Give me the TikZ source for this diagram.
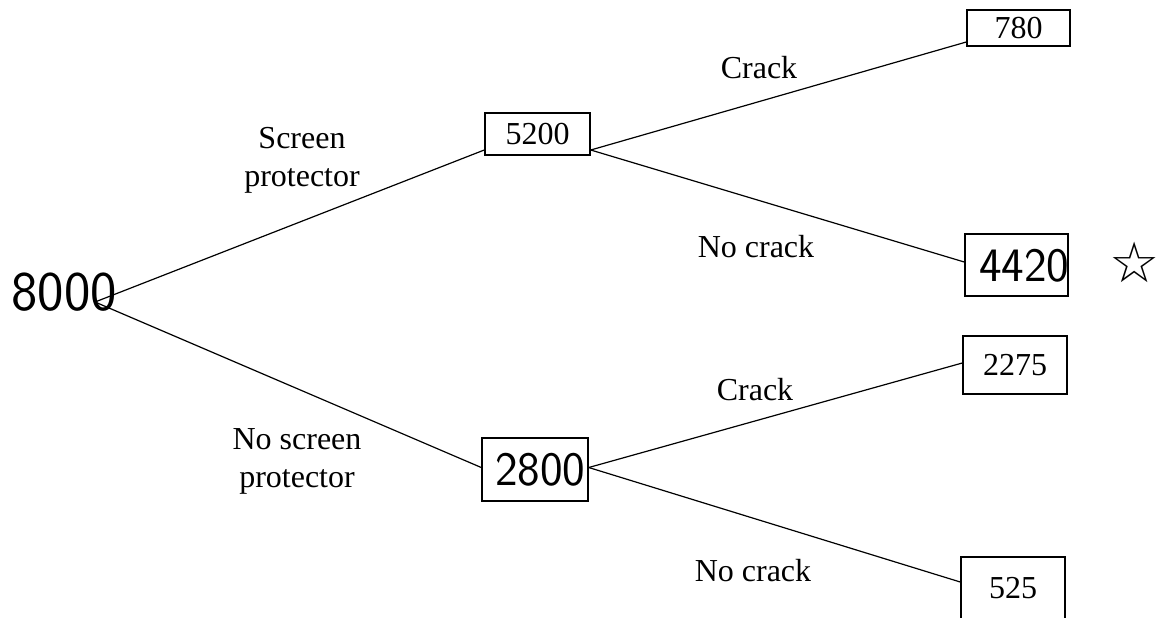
\documentclass[tikz,border=0pt]{standalone}
\usepackage{fontspec}
\setmainfont{Liberation Serif}
\newfontfamily\symfont{DejaVu Sans}
\usetikzlibrary{positioning}

\begin{document}
\begin{tikzpicture}[x=0.5pt,y=-0.5pt,
  font=\fontsize{16}{19}\selectfont,
  line width=0.6pt,
  count/.style={draw,line width=0.75pt,inner sep=0pt},
  branch/.style={align=center},
  hand/.style={font=\fontsize{24}{26}\sffamily}]
\useasboundingbox (0,0) rectangle (1163,617);
\clip (0,0) rectangle (1163,617);

% total at the root
\node[hand,font=\fontsize{28}{30}\sffamily] (total) at (64,292) {8000};
\coordinate (root) at (95,302);

% first stage
\node[count,minimum width=52.5pt,minimum height=21pt] (b5200) at (537.5,134) {5200};
\node[count,minimum width=53pt,minimum height=31.5pt] (b2800) at (535,469.5) {};
\node[hand,anchor=west] (h2800) at (488,470) {2800};

% second stage
\node[count,minimum width=51.5pt,minimum height=18pt] (b780) at (1018.5,28) {780};
\node[count,minimum width=51.5pt,minimum height=31pt] (b4420) at (1016.5,265) {};
\node[hand,anchor=west] (h4420) at (972,266) {4420};
\node[font=\fontsize{28}{30}\symfont] (star) at (1135,262) {☆};
\node[count,minimum width=52pt,minimum height=29pt] (b2275) at (1015,365) {2275};
\node[count,minimum width=52pt,minimum height=32pt] (b525) at (1013,589) {};
\node (t525) at (1013,588) {525};

% branches
\draw (root) -- ([yshift=-8pt]b5200.west);
\draw (root) -- ([yshift=1pt]b2800.west);
\draw ([yshift=-8pt]b5200.east) -- ([yshift=-7pt]b780.west);
\draw ([yshift=-8pt]b5200.east) -- ([yshift=1.5pt]b4420.west);
\draw ([yshift=1pt]b2800.east) -- ([yshift=1pt]b2275.west);
\draw ([yshift=1pt]b2800.east) -- ([yshift=3.5pt]b525.west);

% branch labels
\node[branch] (l1) at (302,160) {Screen\\protector};
\node[branch] (l2) at (297,461) {No screen\\protector};
\node (l3) at (759,68) {Crack};
\node (l4) at (756,247) {No crack};
\node (l5) at (755,390) {Crack};
\node (l6) at (753,571) {No crack};
\end{tikzpicture}
\end{document}
